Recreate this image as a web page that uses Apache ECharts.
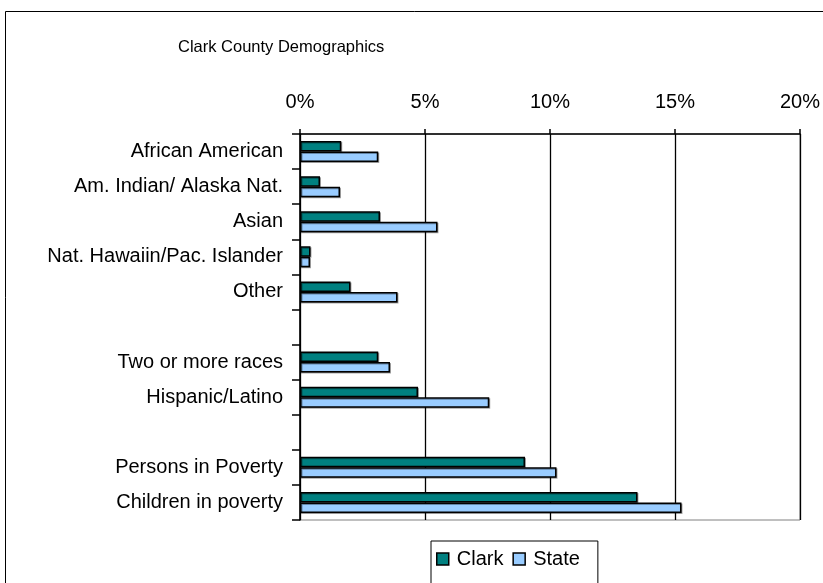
<!DOCTYPE html>
<html>
<head>
<meta charset="utf-8">
<style>
  html, body { margin: 0; padding: 0; background: #fff; }
  #chart { width: 823px; height: 583px; }
</style>
<script src="https://cdn.jsdelivr.net/npm/echarts@6/dist/echarts.min.js"></script>
</head>
<body>
<div id="chart"></div>
<script>
const categories = [
  'African American',
  'Am. Indian/ Alaska Nat.',
  'Asian',
  'Nat. Hawaiin/Pac. Islander',
  'Other',
  '',
  'Two or more races',
  'Hispanic/Latino',
  ' ',
  'Persons in Poverty',
  'Children in poverty'
];
const clarkValues = [1.65, 0.8, 3.2, 0.42, 2.02, null, 3.13, 4.72, null, 9.0, 13.5];
const stateValues = [3.13, 1.6, 5.5, 0.4, 3.9, null, 3.6, 7.57, null, 10.26, 15.26];
const xTicks = { min: 0, max: 20, interval: 5 };

const FONT = "'Liberation Sans', Arial, sans-serif";
const chart = echarts.init(document.getElementById('chart'), null, { renderer: 'canvas' });

const barStyle = (color) => ({
  color: color,
  borderColor: '#000',
  borderWidth: 1.5,
  shadowColor: 'rgba(0,0,0,0.35)',
  shadowOffsetX: 1,
  shadowOffsetY: 1,
  shadowBlur: 0
});

chart.setOption({
  backgroundColor: '#fff',
  animation: false,
  textStyle: { fontFamily: FONT },
  graphic: [{
    type: 'rect',
    shape: { x: 5.5, y: 11.5, width: 900, height: 700 },
    style: { fill: 'none', stroke: '#000', lineWidth: 1 },
    z: -10
  }],
  title: {
    text: 'Clark County Demographics',
    left: 173,
    top: 34,
    textStyle: { fontFamily: FONT, fontSize: 16.5, fontWeight: 'normal', color: '#000' }
  },
  legend: {
    data: ['Clark', 'State'],
    left: 431,
    top: 541,
    orient: 'horizontal',
    padding: [8, 18, 20, 5],
    itemGap: 9,
    itemWidth: 12,
    itemHeight: 12,
    icon: 'rect',
    borderColor: '#000',
    borderWidth: 1,
    backgroundColor: '#fff',
    textStyle: { fontFamily: FONT, fontSize: 20, color: '#000', padding: [0, 0, 0, 3] },
    itemStyle: { borderColor: '#000', borderWidth: 1.5 }
  },
  grid: {
    left: 300,
    right: 19,
    top: 134,
    bottom: 63,
    show: true,
    borderColor: '#808080',
    borderWidth: 1,
    containLabel: false
  },
  xAxis: {
    type: 'value',
    position: 'top',
    min: xTicks.min,
    max: xTicks.max,
    interval: xTicks.interval,
    axisLine: { show: true, lineStyle: { color: '#000', width: 1.5 } },
    axisTick: { show: true, length: 5, lineStyle: { color: '#000', width: 1.5 } },
    axisLabel: {
      formatter: '{value}%',
      fontFamily: FONT,
      fontSize: 20,
      color: '#000',
      margin: 22
    },
    splitLine: { show: true, lineStyle: { color: '#000', width: 1.3 } }
  },
  yAxis: {
    type: 'category',
    inverse: true,
    data: categories,
    axisLine: { show: true, lineStyle: { color: '#000', width: 1.5 } },
    axisTick: { show: true, length: 8, alignWithLabel: false, lineStyle: { color: '#000', width: 1.5 } },
    axisLabel: {
      fontFamily: FONT,
      fontSize: 20,
      color: '#000',
      margin: 17,
      interval: 0
    },
    splitLine: { show: false }
  },
  series: [
    {
      name: 'Clark',
      type: 'bar',
      data: clarkValues,
      barWidth: 10.5,
      barGap: '0%',
      itemStyle: barStyle('#008080')
    },
    {
      name: 'State',
      type: 'bar',
      data: stateValues,
      barWidth: 10.5,
      barGap: '0%',
      itemStyle: barStyle('#99CCFF')
    }
  ]
});
</script>
</body>
</html>
